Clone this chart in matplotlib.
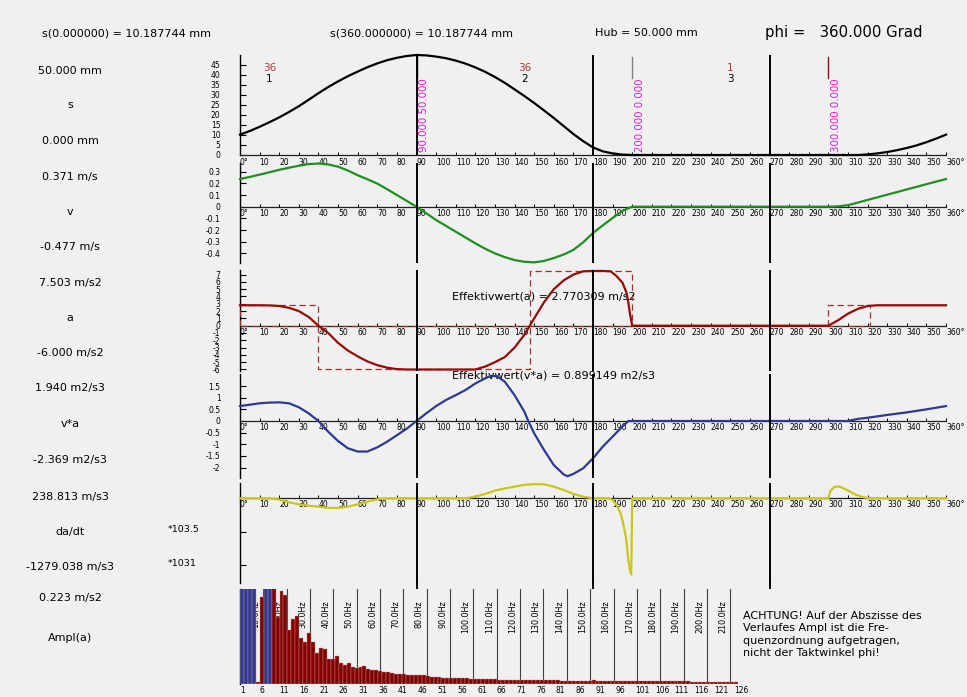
import numpy as np
import matplotlib
matplotlib.use('Agg')
import matplotlib.pyplot as plt
import matplotlib.transforms as mtransforms

# ------------------------------------------------------------------ data
angle_grid = list(range(0, 361, 5))

s_vals = [10.19, 12.0, 14.1, 16.4, 18.8, 21.5, 24.4, 27.6, 30.9, 34.0,
          36.8, 39.4, 41.7, 43.9, 45.8, 47.4, 48.6, 49.5, 50.0, 49.8,
          49.2, 48.4, 47.2, 45.7, 43.8, 41.6, 39.0, 36.1, 32.8, 29.5,
          26.0, 22.3, 18.5, 14.5, 10.5, 6.9, 3.8, 1.8, 0.8, 0.2,
          0, 0, 0, 0, 0, 0, 0, 0, 0, 0,
          0, 0, 0, 0, 0, 0, 0, 0, 0, 0,
          0, 0, 0, 0, 0.3, 0.8, 1.5, 2.4, 3.5, 4.8,
          6.4, 8.2, 10.19]

v_vals = [0.237, 0.255, 0.275, 0.295, 0.316, 0.334, 0.351, 0.365, 0.370, 0.362,
          0.343, 0.31, 0.27, 0.235, 0.198, 0.15, 0.10, 0.05, 0.0, -0.057,
          -0.114, -0.164, -0.214, -0.264, -0.314, -0.36, -0.40, -0.432, -0.457, -0.472,
          -0.477, -0.465, -0.44, -0.41, -0.37, -0.305, -0.225, -0.16, -0.097, -0.035,
          0, 0, 0, 0, 0, 0, 0, 0, 0, 0,
          0, 0, 0, 0, 0, 0, 0, 0, 0, 0,
          0, 0.003, 0.013, 0.035, 0.058, 0.08, 0.103, 0.125, 0.148, 0.17,
          0.193, 0.215, 0.237]

a_angle = [0, 5, 10, 15, 20, 25, 30, 35, 40, 45, 50, 55, 60, 65, 70, 75, 80, 85,
           120, 125, 130, 135, 140, 145, 150, 155, 160, 165, 170, 175, 180, 185, 189,
           192, 195, 197, 198, 199, 200, 300, 305, 310, 315, 320, 325, 360]
a_vals = [2.8, 2.8, 2.8, 2.78, 2.7, 2.45, 2.0, 1.2, 0.0, -1.0, -2.35, -3.4, -4.2, -4.9, -5.4, -5.75, -5.95, -6.0,
          -6.0, -5.6, -5.0, -4.3, -3.0, -1.25, 1.0, 3.2, 5.0, 6.2, 7.0, 7.45, 7.5, 7.5, 7.45,
          6.8, 5.9, 4.6, 3.2, 1.4, 0.0, 0.0, 0.75, 1.65, 2.3, 2.7, 2.8, 2.8]

va_angle = [0, 5, 10, 15, 20, 25, 30, 35, 40, 45, 50, 55, 60, 65, 70, 75, 80, 85, 90, 95,
            100, 105, 110, 115, 120, 125, 128, 131, 135, 140, 145, 147, 150, 155, 160, 165,
            167, 170, 175, 180, 185, 190, 195, 198, 310, 315, 320, 330, 340, 350, 360]
va_vals = [0.64, 0.70, 0.76, 0.79, 0.80, 0.76, 0.59, 0.33, 0.0, -0.46, -0.86, -1.17, -1.31,
           -1.31, -1.13, -0.89, -0.61, -0.33, 0.0, 0.33, 0.64, 0.90, 1.11, 1.33, 1.61, 1.83,
           1.94, 1.92, 1.69, 1.11, 0.40, 0.0, -0.53, -1.24, -1.89, -2.29, -2.37, -2.27, -2.03,
           -1.60, -1.10, -0.67, -0.24, 0.0, 0.0, 0.09, 0.14, 0.26, 0.37, 0.50, 0.64]

dadt_angle = [0, 15, 20, 25, 30, 35, 40, 45, 50, 55, 60, 65, 70, 75,
              115, 120, 125, 130, 135, 140, 145, 150, 155, 160, 165, 170, 175, 180,
              188, 190, 192, 194, 195, 196, 197, 198, 199, 199.5, 200,
              300, 301, 303, 305, 307, 310, 314, 318, 322, 360]
dadt_vals = [0, 0, -20, -67, -101, -125, -140, -160, -163, -140, -101, -56, -17, 0,
             0, 28, 73, 129, 165, 196, 225, 238, 235, 196, 140, 73, 28, 0,
             0, -28, -112, -250, -365, -520, -700, -1040, -1230, -1279, 0,
             0, 120, 190, 200, 180, 130, 60, 15, 0, 0]

# equivalent rectangles in the acceleration plot (angle from, angle to, height)
rect_from = [0, 40, 148, 300]
rect_to = [40, 148, 200, 321]
rect_height = [2.8, -6.0, 7.5, 2.8]

# segment boundaries (angle, stroke) and segment labels
seg_bound_angle = [90, 200, 300]
seg_bound_s = [50.0, 0.0, 0.0]
seg_counts = ['36', '36', '1']
seg_numbers = ['1', '2', '3']

marker_angles = [90, 180, 270]
angle_ticks = list(range(0, 361, 10))
angle_tick_labels = ['0°'] + [str(a) for a in range(10, 360, 10)] + ['360°']

# amplitude spectrum of a (per order)
amp_vals = [0.30, 0.30, 0.30, 0.30, 0.005, 0.205, 0.30, 0.30, 0.30, 0.157,
            0.218, 0.209, 0.127, 0.152, 0.160, 0.107, 0.099, 0.119, 0.099, 0.072,
            0.084, 0.082, 0.058, 0.059, 0.066, 0.050, 0.045, 0.049, 0.039, 0.037,
            0.039, 0.042, 0.036, 0.033, 0.034, 0.031, 0.027, 0.027, 0.026, 0.023,
            0.023, 0.023, 0.022, 0.021, 0.020, 0.020, 0.020, 0.018, 0.017, 0.016,
            0.016, 0.015, 0.015, 0.014, 0.013, 0.014, 0.014, 0.013, 0.0125, 0.0125,
            0.0125, 0.012, 0.011, 0.011, 0.011, 0.0105, 0.0105, 0.010, 0.010, 0.010,
            0.0095, 0.0095, 0.010, 0.009, 0.009, 0.009, 0.009, 0.0085, 0.0085, 0.0085,
            0.0085, 0.008, 0.008, 0.008, 0.008, 0.008, 0.0078, 0.0078, 0.0078, 0.0085,
            0.0075, 0.0075, 0.0072, 0.0072, 0.0072, 0.007, 0.007, 0.007, 0.0068, 0.0068,
            0.0068, 0.0066, 0.0066, 0.0065, 0.0065, 0.0064, 0.0063, 0.0063, 0.0062, 0.0062,
            0.0061, 0.006, 0.006, 0.0059, 0.0058, 0.0058, 0.0057, 0.0056, 0.0056, 0.0055,
            0.0055, 0.0054, 0.0053, 0.0053, 0.0052, 0.005]
blue_orders = [1, 2, 3, 4, 7, 8]
order_tick_values = list(range(1, 127, 5))
base_freq_hz = 1.692
freq_lines_hz = list(range(10, 211, 10))

panel_names = ['s', 'v', 'a', 'v*a', 'da/dt']
panel_max_labels = ['50.000 mm', '0.371 m/s', '7.503 m/s2', '1.940 m2/s3', '238.813 m/s3']
panel_min_labels = ['0.000 mm', '-0.477 m/s', '-6.000 m/s2', '-2.369 m2/s3', '-1279.038 m/s3']

# ------------------------------------------------------------------ styling
W, H = 967, 697
BG = '#f0f0f0'
plt.rcParams['font.family'] = ['DejaVu Sans']

fig = plt.figure(figsize=(W / 100, H / 100), dpi=100)
fig.patch.set_facecolor(BG)

X0, X1 = 240, 946


def axes_px(x0, y0, x1, y1):
    ax = fig.add_axes([x0 / W, 1 - y1 / H, (x1 - x0) / W, (y1 - y0) / H])
    ax.patch.set_visible(False)
    for sp in ax.spines.values():
        sp.set_visible(False)
    return ax


def ftext(x, y, s, **kw):
    return fig.text(x / W, 1 - y / H, s, **kw)


def angle_axes(top, bot, zero, ppu, yticks, ytl, tickpad=1.5):
    ax = axes_px(X0, top, X1, bot)
    ax.set_xlim(0, 360)
    ax.set_ylim(-(bot - zero) / ppu, (zero - top) / ppu)
    ax.spines['bottom'].set_visible(True)
    ax.spines['bottom'].set_position(('data', 0))
    ax.spines['bottom'].set_linewidth(0.9)
    ax.spines['bottom'].set_color('#202020')
    ax.spines['left'].set_visible(True)
    ax.spines['left'].set_linewidth(1.0)
    ax.set_xticks(angle_ticks)
    ax.set_xticklabels(angle_tick_labels, fontsize=5.5)
    for t in ax.get_xticklabels():
        t.set_ha('left')
    ax.tick_params(axis='x', direction='in', length=2.5, pad=tickpad, width=0.7)
    ax.set_yticks(yticks)
    ax.set_yticklabels(ytl, fontsize=5.5)
    ax.tick_params(axis='y', direction='in', length=4, pad=14, width=0.8)
    for ang in marker_angles:
        ax.axvline(ang, color='black', lw=1.4, zorder=5)
    return ax


# s panel
ax_s = angle_axes(55, 155, 155, 2.0, list(range(0, 50, 5)), [str(v) for v in range(0, 50, 5)], tickpad=2.5)
ax_s.plot(angle_grid, s_vals, color='black', lw=1.6, clip_on=False, zorder=4)
trans_s = mtransforms.blended_transform_factory(ax_s.transData, ax_s.transAxes)
seg_colors = ['black', '#808080', '#8b1010']
for ang, sv, c in zip(seg_bound_angle, seg_bound_s, seg_colors):
    ax_s.plot([ang, ang], [0.77, 0.98], transform=trans_s, color=c, lw=1.0, zorder=3)
    ax_s.text(ang, 0.77, f'{ang:.3f} {sv:.3f}', rotation=90, ha='left', va='top',
              fontsize=7.4, color='#d020d0',
              transform=mtransforms.offset_copy(trans_s, fig=fig, x=2.5, y=0, units='dots'), zorder=6)
starts = [seg_bound_angle[-1] - 360] + seg_bound_angle[:-1]
for st, en, cnt, num in zip(starts, seg_bound_angle, seg_counts, seg_numbers):
    mid = (st + en) / 2 % 360
    ax_s.text(mid, 0.87, cnt, color='#b03a3a', fontsize=7.5, ha='center', va='center', transform=trans_s)
    ax_s.text(mid, 0.76, num, color='black', fontsize=7.5, ha='center', va='center', transform=trans_s)

# v panel
v_ticks = [0.3, 0.2, 0.1, 0, -0.1, -0.2, -0.3, -0.4]
ax_v = angle_axes(163, 263, 206.7, 116.7, v_ticks, ['0.3', '0.2', '0.1', '0', '-0.1', '-0.2', '-0.3', '-0.4'])
ax_v.plot(angle_grid, v_vals, color='#1f8f1f', lw=1.6, clip_on=False, zorder=4)

# a panel
a_ticks = list(range(7, -7, -1))
ax_a = angle_axes(270, 371, 325.7, 7.3, a_ticks, [str(v) for v in a_ticks])
for r0, r1, h in zip(rect_from, rect_to, rect_height):
    ax_a.plot([r0, r0, r1, r1, r0], [0, h, h, 0, 0], color='#a03030', lw=0.9,
              ls=(0, (5, 3)), zorder=3)
ax_a.plot(a_angle, a_vals, color='#960a0a', lw=1.6, clip_on=False, zorder=4)
ax_a.text(452 / W, 1 - 297 / H, 'Effektivwert(a) = 2.770309 m/s2', fontsize=8,
          transform=fig.transFigure, va='center', ha='left', zorder=1)

# v*a panel
va_ticks = [1.5, 1, 0.5, 0, -0.5, -1, -1.5, -2]
ax_va = angle_axes(374, 478, 421, 23.3, va_ticks, ['1.5', '1', '0.5', '0', '-0.5', '-1', '-1.5', '-2'])
ax_va.plot(va_angle, va_vals, color='#2e3a8f', lw=1.6, clip_on=False, zorder=4)
ax_va.text(452 / W, 1 - 376 / H, 'Effektivwert(v*a) = 0.899149 m2/s3', fontsize=8,
           transform=fig.transFigure, va='center', ha='left', zorder=1)

# da/dt panel
ax_j = angle_axes(483, 583, 498.3, 1 / 16.8, [-566, -1120], ['', ''])
ax_j.plot(dadt_angle, dadt_vals, color='#c9c61a', lw=1.6, clip_on=False, zorder=4)

# amplitude spectrum panel
orders = np.arange(1, len(amp_vals) + 1)
ax_f = axes_px(X0, 589, X0 + 3.95 * len(amp_vals), 684)
ax_f.set_xlim(0, len(amp_vals))
ax_f.set_ylim(0, 0.223)
ax_f.spines['left'].set_visible(True)
ax_f.spines['left'].set_linewidth(1.0)
colors = ['#2e3a8f' if o in blue_orders else '#800000' for o in orders]
ax_f.bar(orders - 0.5, amp_vals, width=1.0, color=colors, edgecolor='#c89090',
         linewidth=0.3, zorder=3)
trans_f = mtransforms.blended_transform_factory(ax_f.transData, ax_f.transAxes)
for f in freq_lines_hz:
    u = f / base_freq_hz
    ax_f.axvline(u, color='#404040', lw=0.8, zorder=1)
    ax_f.text(u, 0.885, f'{f:.1f}Hz', rotation=90, ha='right', va='top', fontsize=5.8,
              transform=mtransforms.offset_copy(trans_f, fig=fig, x=-3, y=0, units='dots'),
              zorder=1)
ax_f.set_xticks([o - 1 for o in order_tick_values])
ax_f.set_xticklabels([str(o) for o in order_tick_values], fontsize=5.5)
for t in ax_f.get_xticklabels():
    t.set_ha('left')
ax_f.tick_params(axis='x', length=0, pad=1.5)
ax_f.set_yticks([])
# marker lines peek above the spectrum
for ang in marker_angles:
    xp = X0 + (X1 - X0) * ang / 360
    fig.add_artist(plt.Line2D([xp / W, xp / W], [1 - 583 / H, 1 - 588 / H], color='black', lw=1.4))

# ------------------------------------------------------------------ texts
ftext(126, 33, 's(0.000000) = 10.187744 mm', fontsize=8, ha='center', va='center')
ftext(330, 33, 's(360.000000) = 10.187744 mm', fontsize=8, ha='left', va='center')
ftext(595, 33, 'Hub = 50.000 mm', fontsize=8, ha='left', va='center')
ftext(765, 33, 'phi =   360.000 Grad', fontsize=10.7, ha='left', va='center')

label_rows = [(71, 105, 141), (177, 212, 247), (283, 318, 353), (388, 424, 460), (497, 532, 567)]
for (yt, ym, yb), nm, mx, mn in zip(label_rows, panel_names, panel_max_labels, panel_min_labels):
    ftext(70, yt, mx, fontsize=8, ha='center', va='center')
    ftext(70, ym, nm, fontsize=8, ha='center', va='center')
    ftext(70, yb, mn, fontsize=8, ha='center', va='center')
ftext(168, 530, '*103.5', fontsize=6.8, ha='left', va='center')
ftext(168, 563, '*1031', fontsize=6.8, ha='left', va='center')
ftext(70, 598, '0.223 m/s2', fontsize=8, ha='center', va='center')
ftext(70, 638, 'Ampl(a)', fontsize=8, ha='center', va='center')

ftext(743, 611, 'ACHTUNG! Auf der Abszisse des\nVerlaufes Ampl ist die Fre-\n'
      'quenzordnung aufgetragen,\nnicht der Taktwinkel phi!',
      fontsize=8, ha='left', va='top', linespacing=1.3)

fig.savefig('out.png', dpi=100, facecolor=BG)
